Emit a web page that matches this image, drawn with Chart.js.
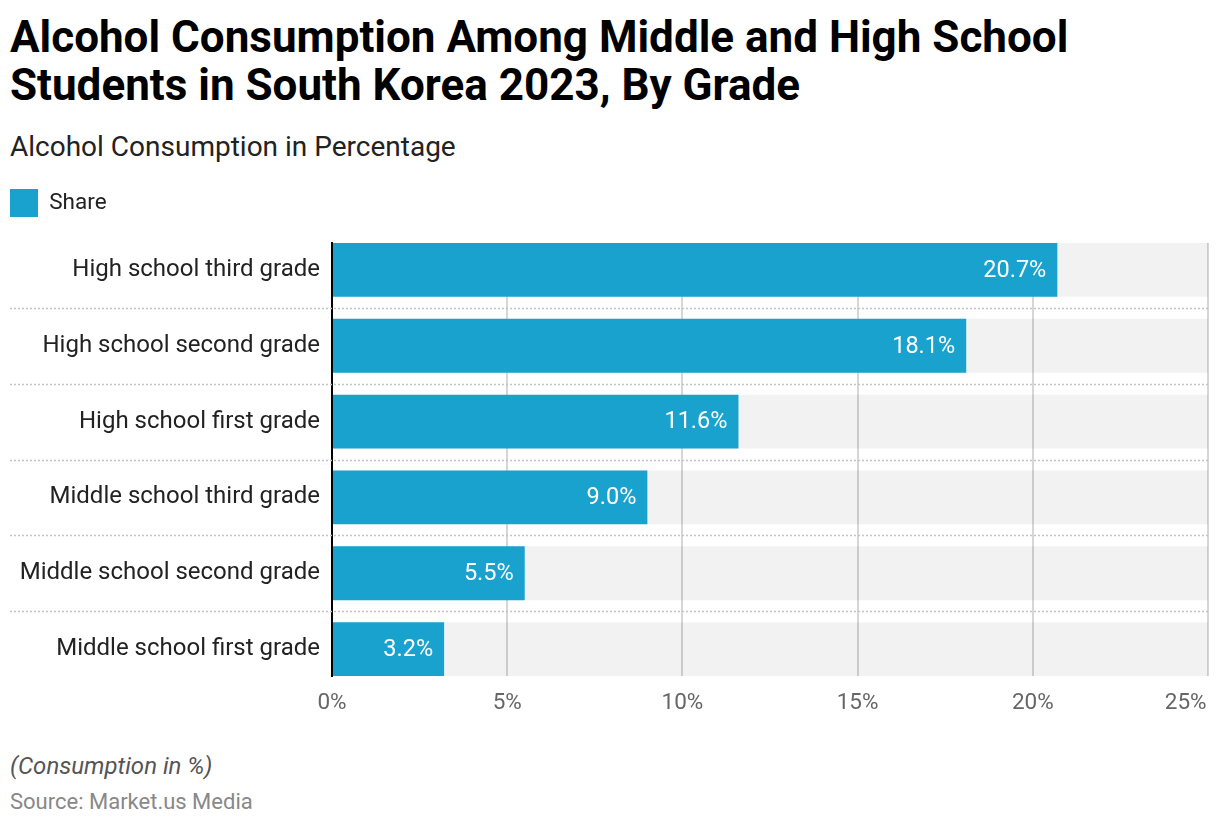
<!DOCTYPE html>
<html>
<head>
<meta charset="utf-8">
<script src="https://cdn.jsdelivr.net/npm/chart.js@4.4.0/dist/chart.umd.min.js"></script>
<style>
  body { margin: 0; width: 1220px; height: 828px; background: #fff; font-family: Roboto, sans-serif; position: relative; overflow: hidden; }
  .title { position: absolute; left: 10px; top: 13px; font-size: 44px; font-weight: bold; line-height: 48px; color: #000; }
  .subtitle { position: absolute; left: 10px; top: 131px; font-size: 28px; line-height: 32px; color: #222; }
  .note { position: absolute; left: 10px; top: 752px; font-size: 24px; line-height: 28px; font-style: italic; color: #555; }
  .source { position: absolute; left: 10px; top: 789px; font-size: 22px; line-height: 26px; color: #888; }
  #wrap { position: absolute; left: 0; top: 183px; width: 1220px; height: 548px; }
</style>
</head>
<body>
<div class="title">Alcohol Consumption Among Middle and High School<br>Students in South Korea 2023, By Grade</div>
<div class="subtitle">Alcohol Consumption in Percentage</div>
<div id="wrap"><canvas id="chart"></canvas></div>
<div class="note">(Consumption in %)</div>
<div class="source">Source: Market.us Media</div>
<script>
// ---------- data ----------
const grades = ['High school third grade', 'High school second grade', 'High school first grade',
  'Middle school third grade', 'Middle school second grade', 'Middle school first grade'];
const shareValues = [20.7, 18.1, 11.6, 9.0, 5.5, 3.2];
const xTicks = [0, 5, 10, 15, 20, 25];
const axisMax = xTicks[xTicks.length - 1];

const barShare = 0.71; // bar thickness as part of a row

// dotted separators between the rows, running under the labels too
const separators = {
  id: 'separators',
  beforeDatasetsDraw(chart) {
    const { ctx, chartArea, scales: { y } } = chart;
    ctx.save();
    ctx.strokeStyle = '#c4c4c4';
    ctx.lineWidth = 1.5;
    ctx.setLineDash([2, 2]);
    for (let i = 0; i < grades.length - 1; i++) {
      const py = Math.round(y.getPixelForValue(i + 0.5)) + 0.5;
      ctx.beginPath();
      ctx.moveTo(10, py);
      ctx.lineTo(chartArea.right, py);
      ctx.stroke();
    }
    ctx.restore();
  }
};

// value labels inside the bar ends
const valueLabels = {
  id: 'valueLabels',
  afterDatasetsDraw(chart) {
    const { ctx } = chart;
    const meta = chart.getDatasetMeta(1);
    ctx.save();
    ctx.fillStyle = '#fff';
    ctx.font = '23.5px Roboto';
    ctx.textAlign = 'right';
    ctx.textBaseline = 'middle';
    meta.data.forEach((bar, i) => {
      ctx.fillText(shareValues[i].toFixed(1) + '%', bar.x - 11, bar.y + 1);
    });
    ctx.restore();
  }
};

// a bit more room under the legend
const legendGap = {
  id: 'legendGap',
  beforeInit(chart) {
    const fit = chart.legend.fit;
    chart.legend.fit = function () {
      fit.bind(chart.legend)();
      this.height += 16;
    };
  }
};

new Chart(document.getElementById('chart'), {
  type: 'bar',
  data: {
    datasets: [{
      label: 'track',
      data: grades.map((g, i) => ({ x: axisMax, y: i })),
      backgroundColor: 'rgba(0,0,0,0.05)',
      grouped: false,
      order: 2,
      barPercentage: 1,
      categoryPercentage: barShare
    }, {
      label: 'Share',
      data: shareValues.map((v, i) => ({ x: v, y: i })),
      backgroundColor: '#19a2ce',
      grouped: false,
      order: 1,
      barPercentage: 1,
      categoryPercentage: barShare
    }]
  },
  options: {
    indexAxis: 'y',
    responsive: true,
    maintainAspectRatio: false,
    animation: false,
    layout: { padding: { left: 4, right: 12, top: 0, bottom: 0 } },
    plugins: {
      legend: {
        position: 'top',
        align: 'start',
        labels: {
          filter: item => item.text !== 'track',
          boxWidth: 28,
          boxHeight: 28,
          padding: 6,
          color: '#222',
          font: { family: 'Roboto', size: 22.5 }
        }
      },
      tooltip: { enabled: false }
    },
    scales: {
      x: {
        type: 'linear',
        min: 0,
        max: axisMax,
        afterBuildTicks(scale) { scale.ticks = xTicks.map(v => ({ value: v })); },
        afterFit(scale) { scale.paddingRight = 0; },
        grid: { color: '#d6d6d6', lineWidth: 2, drawTicks: false },
        border: { display: false },
        ticks: {
          padding: 14,
          color: '#666',
          font: { family: 'Roboto', size: 22.5 },
          maxRotation: 0,
          callback: v => v === axisMax ? v + '%        ' : v + '%'
        }
      },
      y: {
        type: 'linear',
        reverse: true,
        offset: false,
        min: -barShare / 2,
        max: grades.length - 1 + barShare / 2,
        afterBuildTicks(scale) { scale.ticks = grades.map((g, i) => ({ value: i })); },
        afterFit(scale) { scale.width = 328; },
        grid: { display: false, drawTicks: false, offset: false },
        border: { display: true, color: '#000', width: 2 },
        ticks: {
          padding: 12,
          color: '#222',
          font: { family: 'Roboto', size: 24 },
          callback: v => grades[v]
        }
      }
    }
  },
  plugins: [separators, valueLabels, legendGap]
});
</script>
</body>
</html>
